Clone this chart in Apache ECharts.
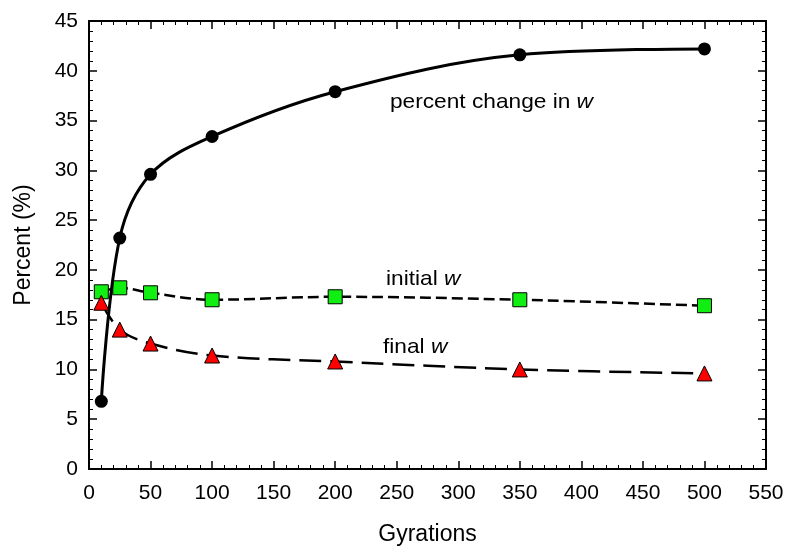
<!DOCTYPE html>
<html>
<head>
<meta charset="utf-8">
<script src="https://cdn.jsdelivr.net/npm/echarts@6/dist/echarts.min.js"></script>
<style>
  html, body { margin: 0; padding: 0; background: #fff; }
  #chart { width: 786px; height: 546px; }
</style>
</head>
<body>
<div id="chart"></div>
<script>
const gyrations = [10, 25, 50, 100, 200, 350, 500];
const percentChange = [6.8, 23.2, 29.6, 33.4, 37.9, 41.6, 42.2];
const initialW = [17.8, 18.2, 17.7, 17.0, 17.3, 17.0, 16.4];
const finalW = [16.7, 14.0, 12.6, 11.4, 10.8, 10.0, 9.6];

const pairs = (ys) => gyrations.map((x, i) => [x, ys[i]]);

const font = 'Liberation Sans, Arial, sans-serif';
const chart = echarts.init(document.getElementById('chart'));

const axisCommon = {
  axisLine: { show: true, onZero: false, lineStyle: { color: '#000', width: 2 } },
  axisTick: { show: true, inside: true, length: 8, lineStyle: { color: '#000', width: 1.5 } },
  minorTick: { show: true, splitNumber: 5, length: 4, lineStyle: { color: '#000', width: 1 } },
  splitLine: { show: false }
};

const italicW = { i: { fontStyle: 'italic', fontFamily: font, fontSize: 21 } };

const option = {
  animation: false,
  grid: { left: 89, right: 20, top: 21, bottom: 77, outerBoundsMode: 'none', containLabel: false },
  xAxis: [
    Object.assign({
      type: 'value', min: 0, max: 550, interval: 50, position: 'bottom',
      name: 'Gyrations', nameLocation: 'middle', nameGap: 54,
      nameTextStyle: { fontFamily: font, fontSize: 23, color: '#000' },
      axisLabel: { fontFamily: font, fontSize: 21, color: '#000', margin: 14 }
    }, axisCommon),
    Object.assign({
      type: 'value', min: 0, max: 550, interval: 50, position: 'top',
      axisLabel: { show: false }
    }, axisCommon)
  ],
  yAxis: [
    Object.assign({
      type: 'value', min: 0, max: 45, interval: 5, position: 'left',
      name: 'Percent (%)', nameLocation: 'middle', nameGap: 54,
      nameTextStyle: { fontFamily: font, fontSize: 23, color: '#000' },
      axisLabel: { fontFamily: font, fontSize: 21, color: '#000', margin: 11 }
    }, axisCommon),
    Object.assign({
      type: 'value', min: 0, max: 45, interval: 5, position: 'right',
      axisLabel: { show: false }
    }, axisCommon)
  ],
  series: [
    {
      name: 'percent change in w', type: 'line', smooth: 0.35,
      data: pairs(percentChange),
      symbol: 'circle', symbolSize: 13,
      lineStyle: { color: '#000', width: 3 },
      itemStyle: { color: '#000' },
      z: 3
    },
    {
      name: 'initial w', type: 'line', smooth: 0.35,
      data: pairs(initialW),
      symbol: 'rect', symbolSize: 14,
      lineStyle: { color: '#000', width: 2.5, type: [11, 5] },
      itemStyle: { color: '#11ee11', borderColor: '#000', borderWidth: 1 },
      z: 2
    },
    {
      name: 'final w', type: 'line', smooth: 0.35,
      data: pairs(finalW),
      symbol: 'triangle', symbolSize: 15,
      lineStyle: { color: '#000', width: 2.5, type: [22, 9] },
      itemStyle: { color: '#ff0000', borderColor: '#000', borderWidth: 1 },
      z: 2
    }
  ],
  graphic: [
    {
      type: 'text', x: 390, y: 92, scaleX: 1.08,
      style: { text: 'percent change in {i|w}', font: '21px ' + font, fill: '#000', rich: italicW }
    },
    {
      type: 'text', x: 386, y: 269, scaleX: 1.08,
      style: { text: 'initial {i|w}', font: '21px ' + font, fill: '#000', rich: italicW }
    },
    {
      type: 'text', x: 383, y: 337, scaleX: 1.08,
      style: { text: 'final {i|w}', font: '21px ' + font, fill: '#000', rich: italicW }
    }
  ]
};

chart.setOption(option);
</script>
</body>
</html>
